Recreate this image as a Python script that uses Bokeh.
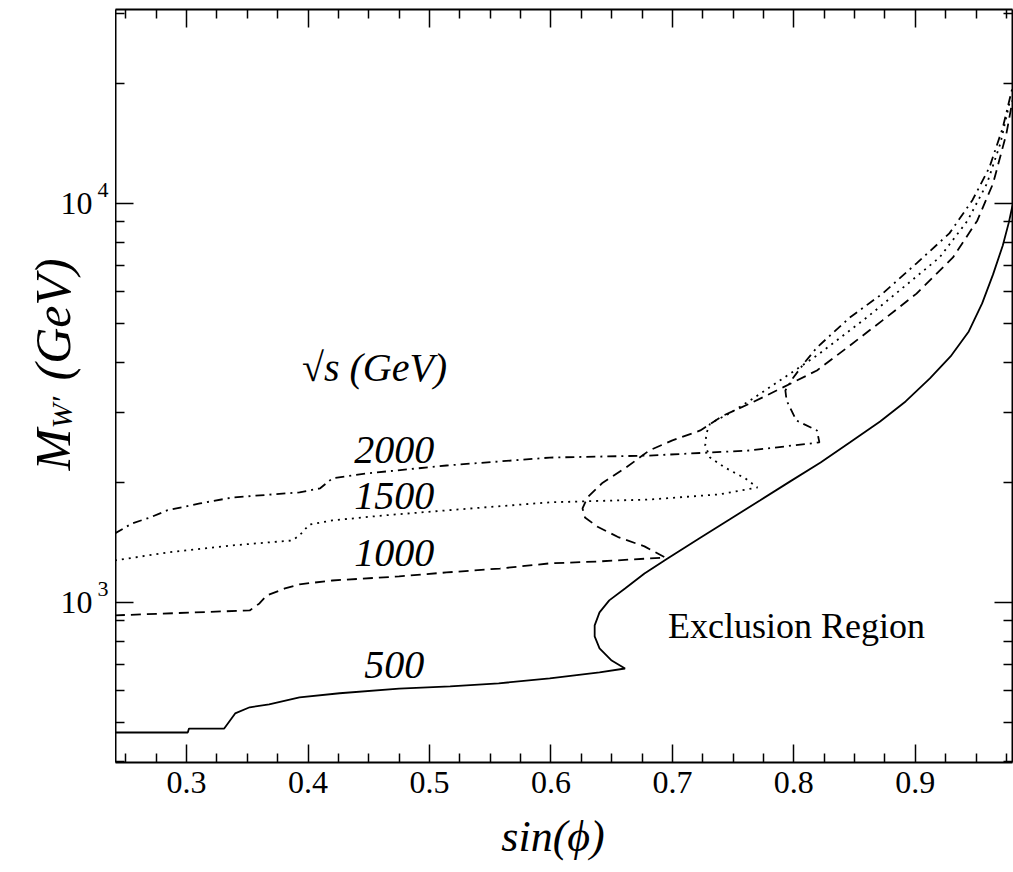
from math import pi

from bokeh.embed import file_html
from bokeh.layouts import row
from bokeh.models import FixedTicker, Label, LinearAxis, LogAxis, Range1d
from bokeh.plotting import figure
from bokeh.resources import INLINE

# sqrt(s) = 500 GeV : boundary of the exclusion region (solid)
sin_500 = [0.241, 0.301, 0.302, 0.331, 0.340, 0.352, 0.368, 0.393, 0.426, 0.475,
           0.517, 0.557, 0.599, 0.640, 0.661, 0.650, 0.640, 0.636, 0.636, 0.640,
           0.648, 0.661, 0.677, 0.696, 0.722, 0.747, 0.772, 0.797, 0.822, 0.846,
           0.871, 0.892, 0.912, 0.929, 0.944, 0.955, 0.964, 0.972, 0.977, 0.980]
mw_500 = [472, 472, 483, 483, 527, 546, 555, 578, 592, 608,
          616, 627, 645, 668, 683, 715, 767, 822, 876, 944,
          1012, 1084, 1182, 1289, 1447, 1614, 1801, 2011, 2243, 2518,
          2842, 3190, 3643, 4135, 4777, 5616, 6640, 7849, 8965, 9886]

# sqrt(s) = 1000 GeV (dashed)
sin_1000 = [0.241, 0.352, 0.360, 0.366, 0.381, 0.393, 0.420, 0.475, 0.514, 0.558,
            0.599, 0.640, 0.694, 0.677, 0.656, 0.638, 0.628, 0.626, 0.630, 0.642,
            0.662, 0.681, 0.700, 0.723, 0.742, 0.764, 0.791, 0.819, 0.844, 0.873,
            0.901, 0.931, 0.951, 0.964, 0.975, 0.980]
mw_1000 = [928, 955, 994, 1041, 1084, 1110, 1135, 1162, 1189, 1216,
           1253, 1267, 1296, 1382, 1455, 1550, 1633, 1720, 1833, 1988,
           2180, 2404, 2547, 2698, 2942, 3153, 3459, 3814, 4355, 5093,
           5944, 7325, 9056, 11220, 14970, 18120]

# sqrt(s) = 1500 GeV (dotted)
sin_1500 = [0.241, 0.284, 0.338, 0.387, 0.393, 0.401, 0.420, 0.461, 0.514, 0.599,
            0.681, 0.739, 0.770, 0.760, 0.743, 0.731, 0.727, 0.728, 0.731, 0.747,
            0.764, 0.791, 0.819, 0.832, 0.860, 0.887, 0.920, 0.943, 0.959, 0.970,
            0.978]
mw_1500 = [1274, 1334, 1390, 1430, 1472, 1567, 1605, 1651, 1701, 1782,
           1811, 1866, 1941, 2046, 2180, 2307, 2473, 2653, 2810, 2977,
           3209, 3642, 4159, 4457, 5176, 6051, 7325, 9056, 11220, 14130,
           18120]

# sqrt(s) = 2000 GeV (dash-dot)
sin_2000 = [0.241, 0.255, 0.270, 0.284, 0.311, 0.338, 0.393, 0.410, 0.420, 0.448,
            0.514, 0.599, 0.681, 0.764, 0.821, 0.819, 0.802, 0.794, 0.793, 0.799,
            0.809, 0.819, 0.846, 0.873, 0.901, 0.928, 0.947, 0.961, 0.972, 0.980]
mw_2000 = [1489, 1577, 1633, 1701, 1771, 1833, 1887, 1932, 2046, 2105,
           2204, 2307, 2334, 2404, 2518, 2698, 2858, 3209, 3398, 3642,
           3999, 4355, 5176, 5944, 7079, 8414, 10190, 12310, 15490, 19540]

x_ticks = [0.3, 0.4, 0.5, 0.6, 0.7, 0.8, 0.9]
x_minor = [0.25, 0.275, 0.325, 0.35, 0.375, 0.425, 0.45, 0.475, 0.525, 0.55, 0.575,
           0.625, 0.65, 0.675, 0.725, 0.75, 0.775, 0.825, 0.85, 0.875, 0.925, 0.95, 0.975]
y_ticks = [1000, 10000]
y_minor = [400, 500, 600, 700, 800, 900, 2000, 3000, 4000, 5000, 6000, 7000,
           8000, 9000, 20000, 30000]
y_tick_exponents = ["3", "4"]

curve_labels = ["2000", "1500", "1000", "500"]
curve_label_x = 0.471
curve_label_y = [2404, 1853, 1327, 695]

SERIF = "Liberation Serif"
TOP, BOTTOM = 9, 110

p = figure(width=898, height=872,
           x_range=Range1d(0.2415, 0.98), y_range=Range1d(397, 30630),
           y_axis_type="log", output_backend="svg", toolbar_location=None,
           min_border_left=0, min_border_right=1, min_border_top=TOP,
           min_border_bottom=BOTTOM)
p.outline_line_color = None
p.grid.visible = False
p.background_fill_color = "white"
p.border_fill_color = "white"


def style_axis(ax, show_labels):
    ax.axis_line_color = "black"
    ax.axis_line_width = 2
    ax.major_tick_line_color = "black"
    ax.minor_tick_line_color = "black"
    ax.major_tick_line_width = 1.5
    ax.minor_tick_line_width = 1.5
    ax.major_tick_in = 18
    ax.major_tick_out = 0
    ax.minor_tick_in = 9
    ax.minor_tick_out = 0
    if show_labels:
        ax.major_label_text_font = SERIF
        ax.major_label_text_font_size = "32px"
        ax.major_label_text_color = "black"
        ax.major_label_standoff = 9
    else:
        ax.major_label_text_font_size = "1px"
        ax.major_label_text_alpha = 0
        ax.major_label_standoff = 0


p.xaxis.ticker = FixedTicker(ticks=x_ticks, minor_ticks=x_minor)
p.yaxis.ticker = FixedTicker(ticks=y_ticks, minor_ticks=y_minor)
style_axis(p.xaxis[0], True)
style_axis(p.yaxis[0], False)
p.xaxis.axis_label = "sin(ϕ)\u2002"
p.xaxis.axis_label_text_font = SERIF
p.xaxis.axis_label_text_font_style = "italic"
p.xaxis.axis_label_text_font_size = "44px"
p.xaxis.axis_label_text_color = "black"
p.xaxis.axis_label_standoff = 16

top = LinearAxis(ticker=FixedTicker(ticks=x_ticks, minor_ticks=x_minor))
style_axis(top, False)
p.add_layout(top, "above")
right = LogAxis(ticker=FixedTicker(ticks=y_ticks, minor_ticks=y_minor))
style_axis(right, False)
p.add_layout(right, "right")

# curves
p.line(sin_500, mw_500, line_color="black", line_width=1.8)
p.line(sin_1000, mw_1000, line_color="black", line_width=1.8, line_dash="10 6")
p.line(sin_1500, mw_1500, line_color="black", line_width=1.8, line_dash="2 5")
p.line(sin_2000, mw_2000, line_color="black", line_width=1.8, line_dash="9 5 2 5")

# curve annotations
for txt, yv in zip(curve_labels, curve_label_y):
    p.add_layout(Label(x=curve_label_x, y=yv, text=txt, text_font=SERIF,
                       text_font_style="italic", text_font_size="40px",
                       text_align="center", text_baseline="middle",
                       text_color="black"))

p.add_layout(Label(x=0.395, y=3882, text="√s (GeV)", text_font=SERIF,
                   text_font_style="italic", text_font_size="40px",
                   text_align="left", text_baseline="middle", text_color="black"))
p.add_layout(Label(x=0.908, y=875, text="Exclusion Region", text_font=SERIF,
                   text_font_size="36px", text_align="right",
                   text_baseline="middle", text_color="black"))

# left margin: y tick values and the y title, on the same vertical scale
lp = figure(width=115, height=872, x_range=Range1d(0, 115), y_range=p.y_range,
            y_axis_type="log", x_axis_location=None, y_axis_location=None,
            output_backend="svg", toolbar_location=None,
            min_border_left=0, min_border_right=0, min_border_top=TOP,
            min_border_bottom=BOTTOM)
lp.outline_line_color = None
lp.grid.visible = False
lp.background_fill_color = "white"
lp.border_fill_color = "white"

for yv, ex in zip(y_ticks, y_tick_exponents):
    lp.add_layout(Label(x=92, y=yv, x_units="screen", text="10", text_font=SERIF,
                        text_font_size="32px", text_align="right",
                        text_baseline="middle", text_color="black"))
    lp.add_layout(Label(x=97, y=yv, x_units="screen", y_offset=6, text=ex,
                        text_font=SERIF, text_font_size="22px", text_align="left",
                        text_baseline="bottom", text_color="black"))

lp.add_layout(Label(x=52, y=292, x_units="screen", y_units="screen", text="M",
                    angle=pi / 2, text_font=SERIF, text_font_style="italic",
                    text_font_size="50px", text_align="left",
                    text_baseline="alphabetic", text_color="black"))
lp.add_layout(Label(x=61, y=334, x_units="screen", y_units="screen", text="W′",
                    angle=pi / 2, text_font=SERIF, text_font_style="italic",
                    text_font_size="30px", text_align="left",
                    text_baseline="alphabetic", text_color="black"))
lp.add_layout(Label(x=52, y=382, x_units="screen", y_units="screen", text="(GeV)",
                    angle=pi / 2, text_font=SERIF, text_font_style="italic",
                    text_font_size="50px", text_align="left",
                    text_baseline="alphabetic", text_color="black"))

layout = row(lp, p, spacing=0)
open("out.html", "w").write(file_html(layout, INLINE))
